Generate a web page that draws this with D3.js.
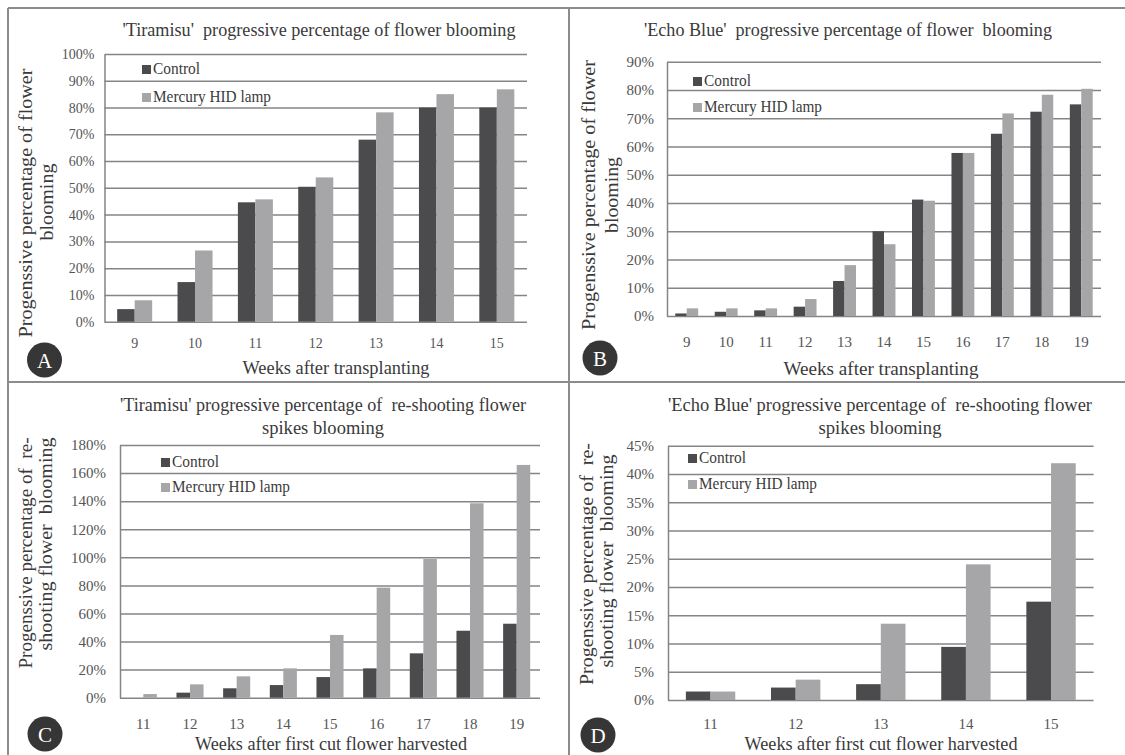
<!DOCTYPE html>
<html>
<head>
<meta charset="utf-8">
<script src="https://cdn.jsdelivr.net/npm/d3@7"></script>
<style>
body{margin:0;background:#fff}
svg{display:block}
svg text{font-family:"Liberation Serif","Times New Roman",serif;white-space:pre}
</style>
</head>
<body>
<script>

// weeks on the x axis of each panel
let weeksA = ["9","10","11","12","13","14","15"]
let weeksB = ["9","10","11","12","13","14","15","16","17","18","19"]
let weeksC = ["11","12","13","14","15","16","17","18","19"]
let weeksD = ["11","12","13","14","15"]

// progressive percentage (%)
let controlA = [4.7, 14.8, 44.6, 50.4, 68, 80, 80]
let mercuryA = [8, 26.6, 45.7, 53.9, 78.2, 85, 86.8]
let controlB = [0.9, 1.5, 2, 3.3, 12.4, 30, 41.2, 57.7, 64.5, 72.3, 74.9]
let mercuryB = [2.7, 2.7, 2.7, 6, 18, 25.4, 40.8, 57.7, 71.7, 78.3, 80.4]
let controlC = [0, 3.6, 6.7, 9, 14.7, 20.9, 31.6, 47.7, 52.7]
let mercuryC = [2.6, 9.5, 15.2, 20.9, 44.7, 78.4, 98.8, 138.5, 165.8]
let controlD = [1.5, 2.2, 2.8, 9.4, 17.4]
let mercuryD = [1.5, 3.6, 13.5, 24, 41.9]

// y tick values
let ticksA = [0,10,20,30,40,50,60,70,80,90,100]
let ticksB = [0,10,20,30,40,50,60,70,80,90]
let ticksC = [0,20,40,60,80,100,120,140,160,180]
let ticksD = [0,5,10,15,20,25,30,35,40,45]

let seriesNames = ["Control", "Mercury HID lamp"]

// texts
let titleA = ["'Tiramisu'  progressive percentage of flower blooming"]
let titleB = ["'Echo Blue'  progressive percentage of flower  blooming"]
let titleC = ["'Tiramisu' progressive percentage of  re-shooting flower", "spikes blooming"]
let titleD = ["'Echo Blue' progressive percentage of  re-shooting flower", "spikes blooming"]
let ylabelAB = ["Progenssive percentage of flower", "blooming"]
let ylabelCD = ["Progenssive percentage of  re-", "shooting flower  blooming"]
let xlabelAB = "Weeks after transplanting"
let xlabelCD = "Weeks after first cut flower harvested"

let width = 1125
let height = 755
let serif = "Liberation Serif, Times New Roman, serif"
let colors = {"Control": "#4b4b4d", "Mercury HID lamp": "#a6a6a8"}
let gridColor = "#858585"
let textColor = "#3a3a3a"
let tickColor = "#555555"

// where every panel sits on the page
let panels = [
    {letter:"A", weeks:weeksA, control:controlA, mercury:mercuryA, ticks:ticksA, max:100,
     left:104.5, right:527, top:54, bottom:321.7, tickPad:10, tickSize:14,
     title:titleA, titleX:319, titleY:[36], titleW:[393],
     ylabel:ylabelAB, ylabX:[32, 52.5], ylabY:[203, 202], ylabW:[269, 77],
     xlabel:xlabelAB, xlabX:336, xlabY:374, xlabW:187, xtickY:348,
     legX:142, legY:65, legStep:28, circle:[44.5, 360]},
    {letter:"B", weeks:weeksB, control:controlB, mercury:mercuryB, ticks:ticksB, max:90,
     left:667, right:1101, top:61.7, bottom:316, tickPad:13, tickSize:15,
     title:titleB, titleX:848, titleY:[36], titleW:[408],
     ylabel:ylabelAB, ylabX:[595, 618], ylabY:[195, 195], ylabW:[270, 76],
     xlabel:xlabelAB, xlabX:881, xlabY:375, xlabW:195, xtickY:347,
     legX:693, legY:77, legStep:26, circle:[600, 358]},
    {letter:"C", weeks:weeksC, control:controlC, mercury:mercuryC, ticks:ticksC, max:180,
     left:120, right:540, top:445, bottom:697.7, tickPad:14, tickSize:15,
     title:titleC, titleX:323, titleY:[411, 434], titleW:[406, 122],
     ylabel:ylabelCD, ylabX:[32, 52], ylabY:[553, 544], ylabW:[231, 213],
     xlabel:xlabelCD, xlabX:331, xlabY:750, xlabW:272, xtickY:729,
     legX:161, legY:458, legStep:25, circle:[45, 734]},
    {letter:"D", weeks:weeksD, control:controlD, mercury:mercuryD, ticks:ticksD, max:45,
     left:668, right:1093.6, top:445.7, bottom:700, tickPad:14, tickSize:15,
     title:titleD, titleX:880, titleY:[411, 434], titleW:[424, 123],
     ylabel:ylabelCD, ylabX:[593, 613], ylabY:[564, 561], ylabW:[242, 213],
     xlabel:xlabelCD, xlabX:881, xlabY:750, xlabW:273, xtickY:729,
     legX:688, legY:454, legStep:26, circle:[598, 735]}
]

let svg = d3.select("body").append("svg")
    .attr("width", width)
    .attr("height", height)

drawFrame()
panels.forEach(p => drawPanel(p))

function drawFrame(){
    let frame = [[8,8,width,8],[8,8,8,height],[569,8,569,height],[8,382,width,382]]
    svg.selectAll("line.frame")
        .data(frame)
        .enter()
        .append("line")
        .attr("class","frame")
        .attr("x1", d => d[0]).attr("y1", d => d[1])
        .attr("x2", d => d[2]).attr("y2", d => d[3])
        .attr("stroke", "#8c8c8c")
        .attr("stroke-width", 2)
}

function drawPanel(p){
    let x = d3.scaleBand()
        .domain(p.weeks)
        .range([p.left, p.right])
        .paddingInner(0.42)
        .paddingOuter(0.21)
    let xs = d3.scaleBand()
        .domain(seriesNames)
        .range([0, x.bandwidth()])
    let y = d3.scaleLinear()
        .domain([0, p.max])
        .range([p.bottom, p.top])

    // gridlines and left axis line
    let yAxis = d3.axisLeft(y)
        .tickValues(p.ticks)
        .tickFormat(d => d + "%")
        .tickSizeInner(-(p.right - p.left))
        .tickSizeOuter(0)
        .tickPadding(p.tickPad)
    let gy = svg.append("g")
        .attr("transform", `translate(${p.left},0)`)
        .call(yAxis)
        .attr("font-family", serif)
        .attr("font-size", p.tickSize)
    gy.selectAll("line, path").attr("stroke", gridColor).attr("stroke-width", 1.5)
    gy.selectAll("text").attr("fill", tickColor)

    // bars
    let rows = []
    p.weeks.forEach((w, i) => {
        rows.push({week:w, series:"Control", value:p.control[i]})
        rows.push({week:w, series:"Mercury HID lamp", value:p.mercury[i]})
    })
    svg.append("g").selectAll("rect")
        .data(rows)
        .enter()
        .append("rect")
        .attr("x", d => x(d.week) + xs(d.series))
        .attr("y", d => y(d.value))
        .attr("width", xs.bandwidth())
        .attr("height", d => y(0) - y(d.value))
        .attr("fill", d => colors[d.series])

    // x tick labels
    let xAxis = d3.axisBottom(x).tickSize(0)
    let gx = svg.append("g")
        .attr("transform", `translate(0,${p.bottom})`)
        .call(xAxis)
        .attr("font-family", serif)
        .attr("font-size", p.tickSize)
    gx.select(".domain").remove()
    gx.selectAll("text")
        .attr("y", p.xtickY - p.bottom)
        .attr("dy", 0)
        .attr("fill", tickColor)

    // title
    svg.append("g").selectAll("text")
        .data(p.title)
        .enter()
        .append("text")
        .attr("x", p.titleX)
        .attr("y", (d, i) => p.titleY[i])
        .attr("text-anchor", "middle")
        .attr("font-size", 18)
        .attr("fill", textColor)
        .attr("textLength", (d, i) => p.titleW[i])
        .attr("lengthAdjust", "spacingAndGlyphs")
        .text(d => d)

    // y axis title, two rotated lines
    svg.append("g").selectAll("text")
        .data(p.ylabel)
        .enter()
        .append("text")
        .attr("transform", (d, i) => `translate(${p.ylabX[i]},${p.ylabY[i]}) rotate(-90)`)
        .attr("text-anchor", "middle")
        .attr("font-size", 19)
        .attr("fill", textColor)
        .attr("textLength", (d, i) => p.ylabW[i])
        .attr("lengthAdjust", "spacingAndGlyphs")
        .text(d => d)

    // x axis title
    svg.append("text")
        .attr("x", p.xlabX)
        .attr("y", p.xlabY)
        .attr("text-anchor", "middle")
        .attr("font-size", 19)
        .attr("fill", textColor)
        .attr("textLength", p.xlabW)
        .attr("lengthAdjust", "spacingAndGlyphs")
        .text(p.xlabel)

    // legend
    let leg = svg.append("g")
    leg.selectAll("rect")
        .data(seriesNames)
        .enter()
        .append("rect")
        .attr("x", p.legX)
        .attr("y", (d, i) => p.legY + i * p.legStep)
        .attr("width", 9)
        .attr("height", 9)
        .attr("fill", d => colors[d])
    leg.selectAll("text")
        .data(seriesNames)
        .enter()
        .append("text")
        .attr("x", p.legX + 11)
        .attr("y", (d, i) => p.legY + 9 + i * p.legStep)
        .attr("font-size", 16)
        .attr("fill", textColor)
        .attr("textLength", (d, i) => i == 0 ? 47 : 118)
        .attr("lengthAdjust", "spacingAndGlyphs")
        .text(d => d)

    // panel letter badge
    svg.append("circle")
        .attr("cx", p.circle[0])
        .attr("cy", p.circle[1])
        .attr("r", 17.5)
        .attr("fill", "#363636")
    svg.append("text")
        .attr("x", p.circle[0])
        .attr("y", p.circle[1])
        .attr("dy", "0.36em")
        .attr("text-anchor", "middle")
        .attr("font-size", 21)
        .attr("fill", "#fff")
        .text(p.letter)
}

</script>
</body>
</html>
